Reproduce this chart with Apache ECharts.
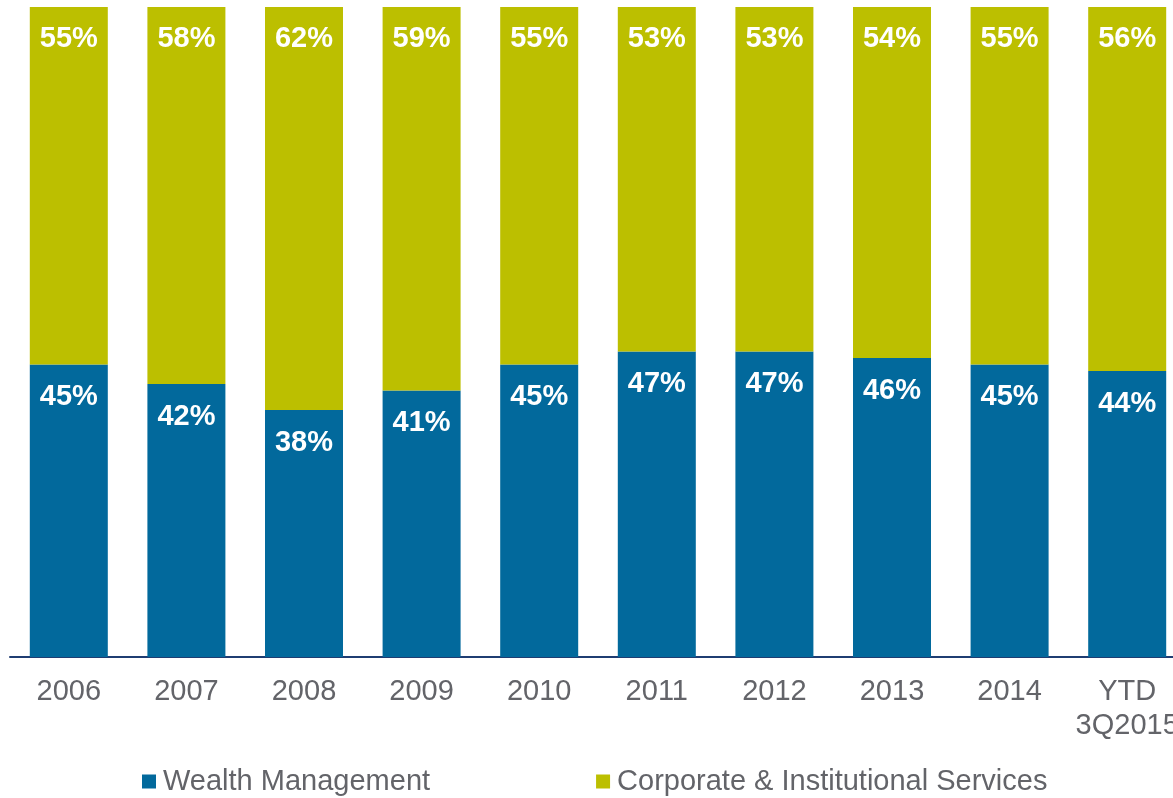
<!DOCTYPE html>
<html>
<head>
<meta charset="utf-8">
<script src="https://cdn.jsdelivr.net/npm/echarts@6/dist/echarts.min.js"></script>
<style>
  html, body { margin: 0; padding: 0; background: #fff; overflow: hidden; }
  #chart { width: 1200px; height: 798px; }
</style>
</head>
<body>
<div id="chart"></div>
<script>
// categories and share of revenue (%)
const years = ['2006', '2007', '2008', '2009', '2010', '2011', '2012', '2013', '2014', 'YTD\n3Q2015'];
const wealthMgmt = [45, 42, 38, 41, 45, 47, 47, 46, 45, 44];
const corpInst = [55, 58, 62, 59, 55, 53, 53, 54, 55, 56];

const BLUE = '#02699c';
const GREEN = '#bcbf00';
const GREY = '#636469';
const FONT = 'Liberation Sans, Arial, sans-serif';

// chart div is a bit wider than the window: the last category runs off the right edge
const chart = echarts.init(document.getElementById('chart'), null, { renderer: 'canvas' });

const barLabel = {
    show: true,
    position: 'insideTop',
    distance: 17,
    color: '#fff',
    fontFamily: FONT,
    fontWeight: 'bold',
    fontSize: 29,
    formatter: p => p.value + '%'
};

chart.setOption({
    animation: false,
    grid: { left: 10, top: 7, width: 1176, height: 650, containLabel: false },
    legend: {
        left: 142,
        top: 767,
        padding: 0,
        itemWidth: 14,
        itemHeight: 14,
        itemGap: 166,
        icon: 'rect',
        textStyle: {
            color: GREY,
            fontFamily: FONT,
            fontSize: 29,
            padding: [0, 0, 0, 2]
        },
        data: ['Wealth Management', 'Corporate & Institutional Services']
    },
    xAxis: {
        type: 'category',
        data: years,
        axisLine: { lineStyle: { color: '#1f3d72', width: 2 } },
        axisTick: { show: false },
        axisLabel: {
            color: GREY,
            fontFamily: FONT,
            fontSize: 29,
            margin: 18,
            lineHeight: 34,
            interval: 0
        }
    },
    yAxis: {
        type: 'value',
        min: 0,
        max: 100,
        show: false
    },
    series: [
        {
            name: 'Wealth Management',
            type: 'bar',
            stack: 'total',
            barWidth: 78,
            data: wealthMgmt,
            itemStyle: { color: BLUE },
            label: Object.assign({}, barLabel, { distance: 18 })
        },
        {
            name: 'Corporate & Institutional Services',
            type: 'bar',
            stack: 'total',
            barWidth: 78,
            data: corpInst,
            itemStyle: { color: GREEN },
            label: barLabel
        }
    ]
});
</script>
</body>
</html>
